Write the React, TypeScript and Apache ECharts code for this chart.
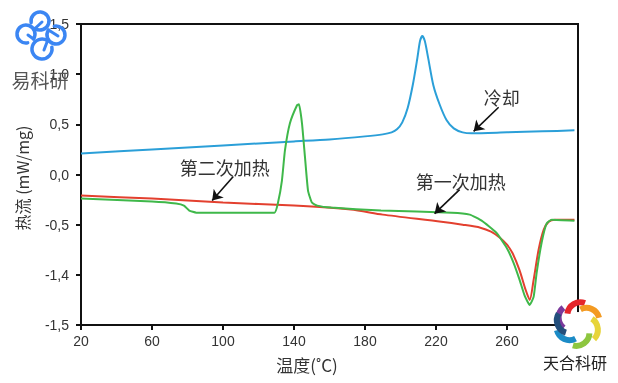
import React, { useEffect, useRef } from "react";
import * as echarts from "echarts";

// Axis ticks
const xTickValues = [20, 60, 100, 140, 180, 220, 260];
const yTickLabels = ["-1,5", "-1,4", "-0,5", "0,0", "0,5", "1,0", "1,5"];

// 冷却 (cooling) – blue
const coolingX = [20, 60, 100, 140, 160, 180, 190, 195, 198, 201, 204, 207, 209.5, 211, 212.3, 213.7, 215.5, 218.5, 222, 226, 230, 235, 240, 260, 280, 298];
const coolingY = [0.21, 0.25, 0.29, 0.33, 0.35, 0.38, 0.40, 0.42, 0.45, 0.52, 0.66, 0.90, 1.16, 1.33, 1.38, 1.33, 1.17, 0.89, 0.70, 0.54, 0.46, 0.42, 0.41, 0.42, 0.43, 0.44];

// 第一次加热 (first heating) – red
const firstX = [20, 60, 100, 140, 172, 190, 223, 235, 245, 251, 256, 260, 263, 267, 270.5, 272.8, 275, 277.8, 280.7, 283.5, 287, 298];
const firstY = [-0.21, -0.24, -0.28, -0.31, -0.35, -0.40, -0.47, -0.50, -0.53, -0.57, -0.63, -0.70, -0.78, -0.95, -1.15, -1.25, -1.05, -0.75, -0.55, -0.47, -0.45, -0.45];

// 第二次加热 (second heating) – green
const secondX = [20, 60, 73.6, 78, 81, 85, 129, 131, 133.2, 134.9, 137.7, 141.7, 142.8, 144.5, 146.2, 147.9, 150.1, 153.1, 161, 189, 229, 239, 245.7, 254, 259.8, 263.7, 267.1, 270, 272.8, 275, 276.7, 279.5, 282.3, 285.2, 298];
const secondY = [-0.24, -0.27, -0.29, -0.31, -0.36, -0.38, -0.38, -0.28, -0.06, 0.24, 0.51, 0.69, 0.70, 0.51, 0.17, -0.16, -0.28, -0.31, -0.33, -0.36, -0.38, -0.40, -0.46, -0.58, -0.73, -0.88, -1.05, -1.21, -1.30, -1.22, -0.98, -0.68, -0.49, -0.45, -0.46];

// Annotations (data coordinates)
const annotationTexts = ["冷却", "第二次加热", "第一次加热"];
const annotationTextPos = [[257, 0.77], [101, 0.07], [234, -0.06]];
const annotationArrowFrom = [[255.3, 0.67], [105.8, -0.02], [233.3, -0.15]];
const annotationArrowTo = [[241.2, 0.43], [93.9, -0.26], [219.2, -0.39]];

const pairs = (xs: number[], ys: number[]) => xs.map((x, i) => [x, ys[i]]);

const AXIS_FONT = "'Liberation Sans', Arial, sans-serif";
const CJK_FONT = "'Noto Sans CJK SC', 'Noto Sans', sans-serif";

function blueLogo() {
  const color = "#3b86f3";
  const hooks = [
    { cx: 40, cy: 21, r: 9, a: Math.PI * 0.75 },
    { cx: 56, cy: 35, r: 9, a: Math.PI * 1.25 },
    { cx: 42, cy: 49, r: 10, a: Math.PI * 1.75 },
    { cx: 26, cy: 34, r: 9, a: Math.PI * 0.25 },
  ];
  const els: any[] = [];
  hooks.forEach((h) => {
    els.push({
      type: "arc",
      shape: { cx: h.cx, cy: h.cy, r: h.r, startAngle: h.a + 0.6, endAngle: h.a + 2 * Math.PI - 0.2 },
      style: { stroke: color, lineWidth: 3.5, fill: "none", lineCap: "round" },
      z: 100,
    });
    els.push({
      type: "line",
      shape: {
        x1: h.cx + h.r * Math.cos(h.a - 0.2),
        y1: h.cy + h.r * Math.sin(h.a - 0.2),
        x2: h.cx + 2,
        y2: h.cy + 1,
      },
      style: { stroke: color, lineWidth: 3, lineCap: "round" },
      z: 100,
    });
  });
  els.push({
    type: "text",
    x: 40,
    y: 79,
    style: { text: "易科研", font: `19px ${CJK_FONT}`, fill: "#555", align: "center", verticalAlign: "middle" },
    z: 100,
  });
  return els;
}

function swirlLogo() {
  const C = [578, 324];
  const petals = [
    { color: "#7b3a9c", a: -135 },
    { color: "#e5262b", a: -75 },
    { color: "#f39a22", a: -20 },
    { color: "#e7d43a", a: 40 },
    { color: "#8dc63f", a: 100 },
    { color: "#1b8bc6", a: 160 },
    { color: "#234f7c", a: 205 },
  ];
  const els: any[] = [
    { type: "circle", shape: { cx: 578, cy: 329, r: 17 }, style: { fill: "#fff" }, z: 99 },
  ];
  petals.forEach((p) => {
    const a = (p.a * Math.PI) / 180;
    els.push({
      type: "arc",
      shape: {
        cx: C[0] + 9 * Math.cos(a),
        cy: C[1] + 9 * Math.sin(a),
        r: 13,
        startAngle: a - 1.7,
        endAngle: a + 0.1,
      },
      style: { stroke: p.color, lineWidth: 6, fill: "none" },
      z: 100,
    });
  });
  els.push({
    type: "text",
    x: 575,
    y: 362,
    style: { text: "天合科研", font: `16px ${CJK_FONT}`, fill: "#222", align: "center", verticalAlign: "middle" },
    z: 100,
  });
  return els;
}

export default function App() {
  const ref = useRef<HTMLDivElement>(null);
  useEffect(() => {
    if (!ref.current) return;
    const chart = echarts.init(ref.current, null, { renderer: "svg" });
    const lineSeries = (name: string, data: number[][], color: string, z: number, smooth: number) => ({
      type: "line",
      name,
      data,
      smooth,
      symbol: "none",
      z,
      lineStyle: { color, width: 2 },
    });
    chart.setOption({
      animation: false,
      grid: {
        left: 81,
        right: 40,
        top: 24,
        bottom: 58,
        show: true,
        borderColor: "#111",
        borderWidth: 2,
        backgroundColor: "transparent",
      },
      xAxis: {
        type: "value",
        min: 20,
        max: 300,
        axisLine: { show: true, onZero: false, lineStyle: { color: "#111", width: 2 } },
        axisTick: { show: true, customValues: xTickValues, length: 5, lineStyle: { color: "#111", width: 2 } },
        axisLabel: {
          customValues: xTickValues,
          margin: 9,
          fontSize: 14,
          fontFamily: AXIS_FONT,
          color: "#333",
        },
        splitLine: { show: false },
      },
      yAxis: {
        type: "value",
        min: -1.5,
        max: 1.5,
        interval: 0.5,
        axisLine: { show: true, onZero: false, lineStyle: { color: "#111", width: 2 } },
        axisTick: { show: true, length: 5, lineStyle: { color: "#111", width: 2 } },
        axisLabel: {
          margin: 12,
          fontSize: 14,
          fontFamily: AXIS_FONT,
          color: "#333",
          formatter: (v: number) => yTickLabels[Math.round((v + 1.5) / 0.5)] ?? "",
        },
        splitLine: { show: false },
      },
      series: [
        lineSeries("冷却", pairs(coolingX, coolingY), "#2b9fd8", 3, 0.25),
        lineSeries("第一次加热", pairs(firstX, firstY), "#e3402f", 3, 0.25),
        lineSeries("第二次加热", pairs(secondX, secondY), "#3fb84a", 4, 0.15),
        {
          type: "lines",
          coordinateSystem: "cartesian2d",
          z: 5,
          symbol: ["none", "arrow"],
          symbolSize: [7, 10],
          lineStyle: { color: "#111", width: 1.6, opacity: 1 },
          data: annotationArrowFrom.map((f, i) => ({ coords: [f, annotationArrowTo[i]] })),
        },
      ],
    });

    const texts = annotationTexts.map((t, i) => {
      const [px, py] = chart.convertToPixel({ gridIndex: 0 }, annotationTextPos[i]) as number[];
      return {
        type: "text",
        x: px,
        y: py,
        style: { text: t, font: `18px ${CJK_FONT}`, fill: "#333", align: "center", verticalAlign: "middle" },
        z: 50,
      };
    });

    chart.setOption({
      graphic: [
        {
          type: "text",
          x: 307,
          y: 364,
          style: { text: "温度(˚C)", font: `17px ${CJK_FONT}`, fill: "#333", align: "center", verticalAlign: "middle" },
        },
        {
          type: "text",
          x: 22,
          y: 178,
          rotation: Math.PI / 2,
          style: { text: "热流 (mW/mg)", font: `16px ${CJK_FONT}`, fill: "#333", align: "center", verticalAlign: "middle" },
        },
        ...texts,
        ...blueLogo(),
        ...swirlLogo(),
      ],
    });
    return () => chart.dispose();
  }, []);
  return <div ref={ref} style={{ position: "fixed", left: 0, top: 0, width: 618, height: 383 }} />;
}
